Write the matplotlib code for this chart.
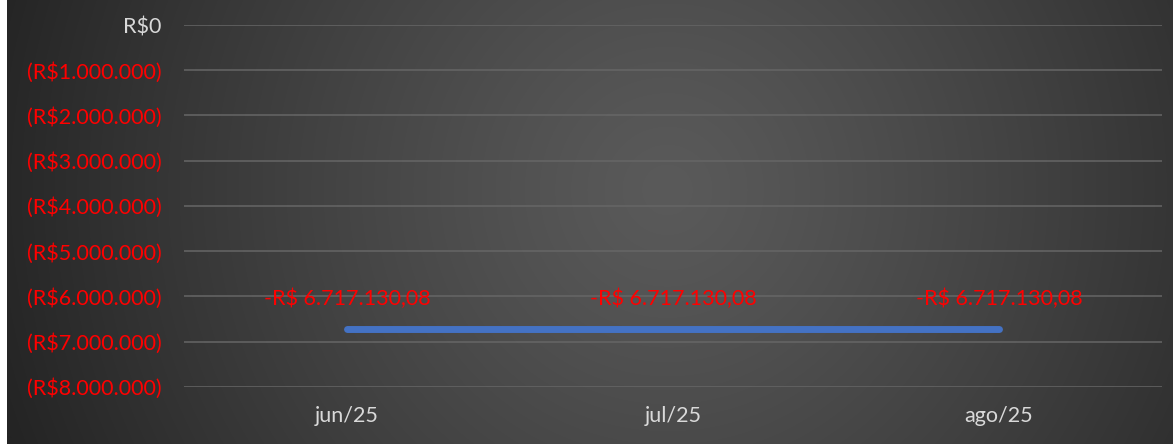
import numpy as np
import matplotlib.pyplot as plt
from matplotlib.ticker import FuncFormatter

# data
meses = ['jun/25', 'jul/25', 'ago/25']
saldo = [-6717130.08, -6717130.08, -6717130.08]
rotulos = ['-R$ 6.717.130,08', '-R$ 6.717.130,08', '-R$ 6.717.130,08']
y_ticks = [0, -1000000, -2000000, -3000000, -4000000, -5000000, -6000000, -7000000, -8000000]

plt.rcParams['font.family'] = ['Lato', 'DejaVu Sans']

W, H = 1173, 444
fig = plt.figure(figsize=(W / 100, H / 100), dpi=100, facecolor='white')

# dark radial gradient background
bg = fig.add_axes([7 / W, 0, 1 - 7 / W, 1])
bg.axis('off')
yy, xx = np.mgrid[0:H, 0:W - 7]
cx, cy = 660, 190
r = np.sqrt((xx - cx) ** 2 + (yy - cy) ** 2) / 700
r = np.clip(r, 0, 1)
inner, outer = 0x5a / 255, 0x24 / 255
val = inner + (outer - inner) * r ** 1.2
img = np.dstack([val, val, val])
bg.imshow(img, aspect='auto', extent=[0, 1, 0, 1])
bg.set_xlim(0, 1)
bg.set_ylim(0, 1)

ax = fig.add_axes([184 / W, 1 - 387 / H, (1162 - 184) / W, (387 - 25) / H])
ax.patch.set_alpha(0)
ax.set_zorder(2)

x = np.arange(len(meses))
ax.plot(x, saldo, color='#4472c4', lw=5, solid_capstyle='round', zorder=3)
for xi, yi, txt in zip(x, saldo, rotulos):
    ax.annotate(txt, (xi, yi), xytext=(0, 22), textcoords='offset points',
                ha='center', va='center', color='#ff0000', fontsize=15.5)

ax.set_xlim(-0.5, 2.5)
ax.set_ylim(-8000000, 0)
ax.set_yticks(y_ticks)
ax.set_xticks(x)
ax.set_xticklabels(meses)


def fmt(v, pos):
    if v == 0:
        return 'R$0'
    s = f'{abs(v):,.0f}'.replace(',', '.')
    return f'(R${s})'


ax.yaxis.set_major_formatter(FuncFormatter(fmt))
ax.grid(axis='y', color='#666666', lw=1.1)
ax.tick_params(length=0, labelsize=15.5)
ax.tick_params(axis='y', pad=16)
ax.tick_params(axis='x', pad=14, colors='#d9d9d9')
for lbl, v in zip(ax.get_yticklabels(), y_ticks):
    lbl.set_color('#d9d9d9' if v == 0 else '#ff0000')
for s in ax.spines.values():
    s.set_visible(False)

fig.savefig('out.png', dpi=100, facecolor=fig.get_facecolor())
